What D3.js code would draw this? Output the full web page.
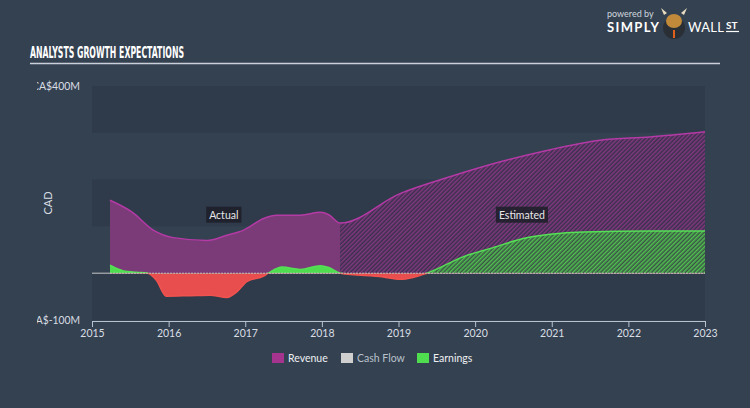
<!DOCTYPE html>
<html>
<head>
<meta charset="utf-8">
<script src="https://cdn.jsdelivr.net/npm/d3@7"></script>
<style>
  body { margin: 0; background: #344150; }
  svg { display: block; font-family: Lato, "Open Sans", sans-serif; }
</style>
</head>
<body>
<div id="chart"></div>
<script>
// data (decimal years, values in CA$ millions)
var revenueYears = [2015.235, 2015.52, 2015.80, 2016.06, 2016.50, 2016.76, 2016.98, 2017.24, 2017.41, 2017.72, 2017.98, 2018.09, 2018.24, 2019.02, 2019.67, 2020.33, 2020.98, 2021.63, 2022.28, 2023.0];
var revenueValues = [156, 131, 92, 76, 70, 81, 92, 117, 124, 124, 130, 125, 107, 170, 206, 238, 264, 284, 291, 302];

var earningsYears = [2015.235, 2015.41, 2015.58, 2015.73, 2015.84, 2015.97, 2016.28, 2016.54, 2016.76, 2016.89, 2017.02, 2017.24, 2017.30, 2017.48, 2017.72, 2017.98, 2018.09, 2018.24, 2018.80, 2019.02, 2019.19, 2019.37, 2019.89, 2020.20, 2020.63, 2020.98, 2021.41, 2022.28, 2023.0];
var earningsValues = [17, 5, 2, 0, -15, -49, -48, -47, -52, -40, -18, -6, 0, 13, 8, 16, 12, 0, -8, -13, -9, 0, 38, 53, 74, 83, 88, 90, 90];

var cashFlowYears = [2015.235, 2023.0];
var cashFlowValues = [0, 0];

var splitYear = 2018.24;
var xTicks = [2015, 2016, 2017, 2018, 2019, 2020, 2021, 2022, 2023];
var yTicks = [-100, 400];
var bandEdges = [400, 300, 200, 100, 0, -100];
var legendNames = ["Revenue", "Cash Flow", "Earnings"];
var legendColors = ["#a5348f", "#cfcfcf", "#4fdc4f"];

var W = 750, H = 408;
var plotLeft = 92, plotRight = 705, plotTop = 86, plotBottom = 320;

var svg = d3.select("#chart").append("svg")
    .attr("width", W).attr("height", H);

svg.append("rect").attr("width", W).attr("height", H).attr("fill", "#344150");

var x = d3.scaleLinear().domain([2015, 2023]).range([plotLeft, plotRight]);
var y = d3.scaleLinear().domain([-100, 400]).range([plotBottom, plotTop]);

var defs = svg.append("defs");

// hatch patterns for estimated part
function hatch(id, bg, fg) {
  var p = defs.append("pattern")
      .attr("id", id)
      .attr("patternUnits", "userSpaceOnUse")
      .attr("width", 3).attr("height", 3)
      .attr("patternTransform", "rotate(45)");
  p.append("rect").attr("width", 3).attr("height", 3).attr("fill", bg);
  p.append("rect").attr("width", 1.5).attr("height", 3).attr("fill", fg);
}
hatch("hatchRev", "#38304d", "#83387f");
hatch("hatchEarn", "#3b5446", "#50bf50");

defs.append("clipPath").attr("id", "clipActual")
  .append("rect").attr("x", plotLeft).attr("y", 0)
  .attr("width", x(splitYear) - plotLeft).attr("height", H);
defs.append("clipPath").attr("id", "clipEst")
  .append("rect").attr("x", x(splitYear)).attr("y", 0)
  .attr("width", plotRight - x(splitYear)).attr("height", H);
defs.append("clipPath").attr("id", "clipPos")
  .append("rect").attr("x", 0).attr("y", 0).attr("width", W).attr("height", y(0));
defs.append("clipPath").attr("id", "clipNeg")
  .append("rect").attr("x", 0).attr("y", y(0)).attr("width", W).attr("height", H - y(0));
defs.append("clipPath").attr("id", "clipYLabels")
  .append("rect").attr("x", 37).attr("y", 0).attr("width", 60).attr("height", H);

// title + logo
svg.append("text")
    .attr("x", 30).attr("y", 58)
    .attr("fill", "#ffffff")
    .attr("font-family", "'Liberation Sans Narrow', 'DejaVu Sans Condensed', sans-serif")
    .attr("font-weight", "bold")
    .attr("font-size", 15)
    .attr("textLength", 154)
    .attr("lengthAdjust", "spacingAndGlyphs")
    .text("ANALYSTS GROWTH EXPECTATIONS");
svg.append("line")
    .attr("x1", 30).attr("x2", 720).attr("y1", 63.5).attr("y2", 63.5)
    .attr("stroke", "#c9d0da").attr("stroke-width", 1.5);

var logo = svg.append("g");
logo.append("text").attr("x", 607).attr("y", 17)
    .attr("fill", "#cfd6de").attr("font-size", 9).text("powered by");
logo.append("text").attr("x", 607).attr("y", 32)
    .attr("fill", "#ffffff").attr("font-size", 13).attr("font-weight", "bold")
    .attr("textLength", 52).text("SIMPLY");
logo.append("circle").attr("cx", 674).attr("cy", 28).attr("r", 11).attr("fill", "#2a2f36");
logo.append("ellipse").attr("cx", 674).attr("cy", 21).attr("rx", 8).attr("ry", 7).attr("fill", "#c08a3a");
logo.append("path").attr("d", "M664,15 L661,8 L667,13 Z M684,15 L687,8 L681,13 Z").attr("fill", "#e8dcc0");
logo.append("path").attr("d", "M673,30 L675,30 L675,38 L673,38 Z").attr("fill", "#e0601e");
logo.append("text").attr("x", 688).attr("y", 32)
    .attr("fill", "#ffffff").attr("font-size", 13).attr("textLength", 36).text("WALL");
logo.append("text").attr("x", 726).attr("y", 29)
    .attr("fill", "#ffffff").attr("font-size", 10).attr("font-weight", "bold").text("ST");
logo.append("line").attr("x1", 726).attr("x2", 739).attr("y1", 31.5).attr("y2", 31.5)
    .attr("stroke", "#ffffff").attr("stroke-width", 1.2);

// alternating bands
var bands = d3.pairs(bandEdges);
svg.append("g").selectAll("rect")
  .data(bands)
  .enter().append("rect")
    .attr("x", plotLeft)
    .attr("width", plotRight - plotLeft)
    .attr("y", function(d) { return y(d[0]); })
    .attr("height", function(d) { return y(d[1]) - y(d[0]); })
    .attr("fill", function(d, i) { return (i % 2 === 0) ? "#2f3b4a" : "#344150"; });

// zero line
svg.append("line")
    .attr("x1", plotLeft).attr("x2", plotRight).attr("y1", y(0)).attr("y2", y(0))
    .attr("stroke", "#c8c8c8").attr("stroke-width", 1);

var revenue = revenueYears.map(function(d, i) { return [d, revenueValues[i]]; });
var earnings = earningsYears.map(function(d, i) { return [d, earningsValues[i]]; });
var cashFlow = cashFlowYears.map(function(d, i) { return [d, cashFlowValues[i]]; });

var area = d3.area()
    .x(function(d) { return x(d[0]); })
    .y0(y(0))
    .y1(function(d) { return y(d[1]); })
    .curve(d3.curveMonotoneX);
var line = d3.line()
    .x(function(d) { return x(d[0]); })
    .y(function(d) { return y(d[1]); })
    .curve(d3.curveMonotoneX);

// revenue
svg.append("path").datum(revenue).attr("d", area)
    .attr("fill", "#7b3a78").attr("clip-path", "url(#clipActual)");
svg.append("path").datum(revenue).attr("d", area)
    .attr("fill", "url(#hatchRev)").attr("clip-path", "url(#clipEst)");
svg.append("path").datum(revenue).attr("d", line)
    .attr("fill", "none").attr("stroke", "#b43aa6").attr("stroke-width", 1.5);

// earnings: green above zero, red below
var gPos = svg.append("g").attr("clip-path", "url(#clipPos)");
gPos.append("g").attr("clip-path", "url(#clipActual)")
  .append("path").datum(earnings).attr("d", area).attr("fill", "#4fdc4f");
gPos.append("g").attr("clip-path", "url(#clipEst)")
  .append("path").datum(earnings).attr("d", area).attr("fill", "url(#hatchEarn)");
gPos.append("path").datum(earnings).attr("d", line)
    .attr("fill", "none").attr("stroke", "#55e055").attr("stroke-width", 1.5);

var gNeg = svg.append("g").attr("clip-path", "url(#clipNeg)");
gNeg.append("path").datum(earnings).attr("d", area).attr("fill", "#e84e4e");
gNeg.append("path").datum(earnings).attr("d", line)
    .attr("fill", "none").attr("stroke", "#f0524f").attr("stroke-width", 1.5);

// cash flow
svg.append("path").datum(cashFlow).attr("d", line)
    .attr("fill", "none").attr("stroke", "#cfcfcf").attr("stroke-width", 1)
    .attr("stroke-dasharray", "2,1").attr("opacity", 0.8);

// Actual / Estimated tags
function tag(label, cx) {
  var g = svg.append("g");
  var t = g.append("text")
      .attr("x", cx).attr("y", y(125) + 4)
      .attr("text-anchor", "middle")
      .attr("fill", "#e8e8e8").attr("font-size", 10.5)
      .text(label);
  var b = t.node().getBBox();
  g.insert("rect", "text")
      .attr("x", b.x - 3).attr("y", y(125) - 8)
      .attr("width", b.width + 6).attr("height", 16)
      .attr("fill", "#1c1e28").attr("opacity", 0.85);
}
tag("Actual", x(2016.72));
tag("Estimated", x(2020.61));

// x axis
var xAxis = svg.append("g")
    .attr("transform", "translate(0," + (plotBottom + 1) + ")")
    .call(d3.axisBottom(x).tickValues(xTicks).tickFormat(d3.format("d")).tickSize(6).tickSizeOuter(6));
xAxis.selectAll("path, line").attr("stroke", "#b9c3cf");
xAxis.selectAll("text").attr("fill", "#d9dee5").attr("font-size", 10.5).attr("font-family", "Lato, sans-serif");

// y axis labels (left part cut off like the original)
var yAxis = svg.append("g")
    .attr("clip-path", "url(#clipYLabels)")
  .append("g")
    .attr("transform", "translate(" + plotLeft + ",0)")
    .call(d3.axisLeft(y).tickValues(yTicks).tickSize(0).tickPadding(12)
      .tickFormat(function(d) { return "CA$" + d + "M"; }));
yAxis.select(".domain").remove();
yAxis.selectAll("text")
    .attr("fill", "#d9dee5").attr("font-size", 11).attr("font-family", "Lato, sans-serif")
    .attr("lengthAdjust", "spacingAndGlyphs")
    .attr("textLength", function(d) { return d < 0 ? 51 : 48; });

svg.append("text")
    .attr("transform", "translate(52,203) rotate(-90)")
    .attr("text-anchor", "middle")
    .attr("fill", "#d9dee5").attr("font-size", 11)
    .text("CAD");

// legend
var legendX = [272, 341, 417];
var legend = svg.append("g").selectAll("g")
  .data(legendNames)
  .enter().append("g")
    .attr("transform", function(d, i) { return "translate(" + legendX[i] + ",353)"; });
legend.append("rect")
    .attr("width", 12).attr("height", 10)
    .attr("fill", function(d, i) { return legendColors[i]; });
legend.append("text")
    .attr("x", 16).attr("y", 9)
    .attr("font-size", 10.5)
    .attr("fill", function(d, i) { return i === 1 ? "#b8c0ca" : "#eef0f3"; })
    .text(function(d) { return d; });
</script>
</body>
</html>
